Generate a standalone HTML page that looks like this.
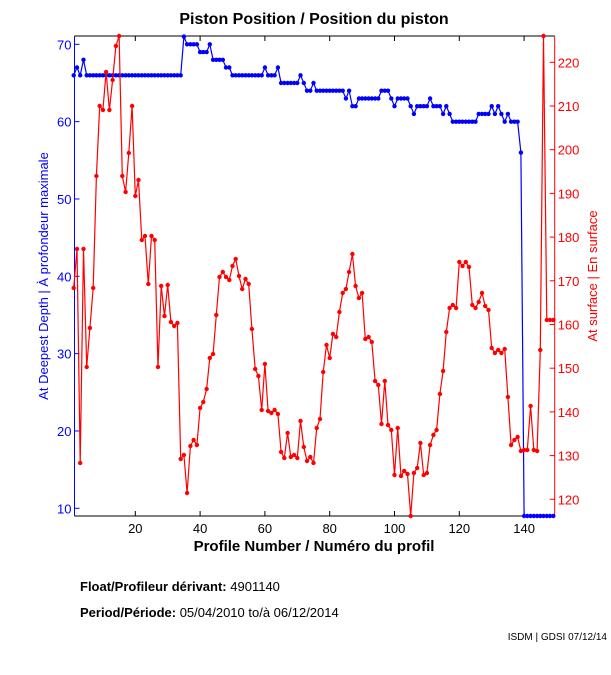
<!DOCTYPE html>
<html><head><meta charset="utf-8"><style>
html,body{margin:0;padding:0;background:#fff;width:611px;height:675px;overflow:hidden}
svg text{font-family:"Liberation Sans",Arial,sans-serif}
</style></head><body>
<svg id="s" width="611" height="675" xmlns="http://www.w3.org/2000/svg">
<rect width="611" height="675" fill="#fff"/>
<text x="314" y="24" font-size="16" font-weight="bold" text-anchor="middle">Piston Position / Position du piston</text>
<text x="314" y="551" font-size="15" font-weight="bold" text-anchor="middle">Profile Number / Numéro du profil</text>
<text transform="translate(48,276) rotate(-90)" font-size="13" fill="#00f" text-anchor="middle">At Deepest Depth | À profondeur maximale</text>
<text transform="translate(597,276) rotate(-90)" font-size="13" fill="#f00" text-anchor="middle">At surface | En surface</text>
<text x="80" y="591" font-size="13"><tspan font-weight="bold">Float/Profileur dérivant:</tspan> 4901140</text>
<text x="80" y="617" font-size="13"><tspan font-weight="bold">Period/Période:</tspan> 05/04/2010  to/à  06/12/2014</text>
<text x="607" y="640" font-size="10" text-anchor="end">ISDM | GDSI 07/12/14</text>
<g id="g"></g>
</svg>
<script>
var g=document.getElementById('g'),h='';
var L=74.5,R=554.7,T=36,B=516;
function X(n){return 135.3+(n-20)*3.24}
function YL(v){return 508.3-(v-10)*7.733}
function YR(v){return 62.3-(v-220)*4.37}
// axes
h+='<line x1="'+L+'" y1="'+B+'" x2="'+R+'" y2="'+B+'" stroke="#000"/>';
h+='<line x1="'+L+'" y1="'+T+'" x2="'+R+'" y2="'+T+'" stroke="#000"/>';
for(var n=20;n<=140;n+=20){var x=X(n);h+='<line x1="'+x+'" y1="'+B+'" x2="'+x+'" y2="'+(B-5)+'" stroke="#000"/><line x1="'+x+'" y1="'+T+'" x2="'+x+'" y2="'+(T+5)+'" stroke="#000"/><text x="'+x+'" y="'+(B+17)+'" font-size="13" text-anchor="middle">'+n+'</text>';}
h+='<line x1="'+L+'" y1="'+T+'" x2="'+L+'" y2="'+B+'" stroke="#00f"/>';
for(var v=10;v<=70;v+=10){var y=YL(v);h+='<line x1="'+L+'" y1="'+y+'" x2="'+(L+5)+'" y2="'+y+'" stroke="#00f"/><text x="'+(L-3)+'" y="'+(y+5)+'" font-size="13" fill="#00f" text-anchor="end">'+v+'</text>';}
h+='<line x1="'+R+'" y1="'+T+'" x2="'+R+'" y2="'+B+'" stroke="#f00"/>';
for(var v=120;v<=220;v+=10){var y=YR(v);h+='<line x1="'+R+'" y1="'+y+'" x2="'+(R-5)+'" y2="'+y+'" stroke="#f00"/><text x="'+(R+3)+'" y="'+(y+5)+'" font-size="13" fill="#f00">'+v+'</text>';}
// blue
var b={1:66,2:67,3:66,4:68,35:71,36:70,37:70,38:70,39:70,40:69,41:69,42:69,43:70,44:68,45:68,46:68,47:68,48:67,49:67,60:67,64:67,65:65,66:65,67:65,68:65,69:65,70:65,71:66,72:65,73:64,74:64,75:65,85:63,86:64,87:62,88:62,96:64,97:64,98:64,99:63,100:62,105:62,106:61,107:62,108:62,109:62,110:62,111:63,112:62,113:62,114:62,115:61,116:62,117:61,126:61,127:61,128:61,129:61,130:62,131:61,132:62,133:61,134:60,135:61,136:60,137:60,138:60,139:56};
var bp=[];for(var n=1;n<=149;n++){var v=b[n];if(v===undefined){if(n<=34||(n>=50&&n<=63))v=66;else if(n<=84)v=64;else if(n<=95)v=63;else if(n<=104)v=63;else if(n<=125)v=60;else v=9;}bp.push([X(n),YL(v)]);}
// red pixels
var ry=[288,249,463,249,367,328,288,176,106,110,72,110,80,46,36,176,192,153,106,196,180,240,236,284,236,240,367,286,316,285,322,326,323,459,455,493,446,440,445,408,402,389,358,354,315,277,272,277,280,266,259,276,289,279,284,329,369,376,410,364,411,413,410,414,452,458,433,457,455,458,421,447,461,457,463,428,419,372,345,358,334,337,312,293,289,272,254,286,298,293,339,337,342,381,385,424,381,425,430,475,428,476,471,474,516,473,468,443,475,473,445,435,430,394,371,332,308,305,308,262,266,262,267,305,308,302,293,306,310,348,353,350,353,349,397,445,440,437,451,450,450,406,450,451,350,36,320,320,320];
var rp=ry.map(function(y,i){return [X(i+1),y]});
function draw(p,c){h+='<polyline fill="none" stroke="'+c+'" stroke-width="1.2" points="'+p.map(function(q){return q[0].toFixed(1)+','+q[1].toFixed(1)}).join(' ')+'"/>';p.forEach(function(q){h+='<circle cx="'+q[0].toFixed(1)+'" cy="'+q[1].toFixed(1)+'" r="2.2" fill="'+c+'"/>';});}
draw(bp,'#00f');draw(rp,'#f00');
g.innerHTML=h;
</script>
</body></html>
